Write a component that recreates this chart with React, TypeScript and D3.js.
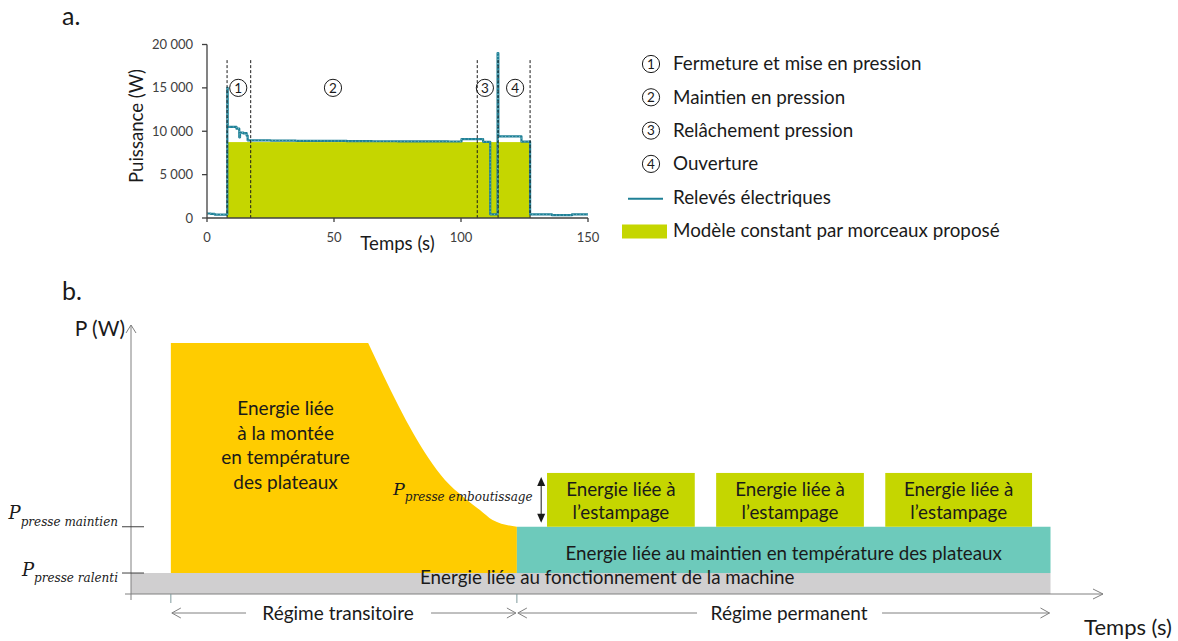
import React from 'react';
import * as d3 from 'd3';

const SANS = 'Lato, "Open Sans", sans-serif';
const MATH = '"DejaVu Serif", "Liberation Serif", serif';
const INK = '#1a1a1a';

// ---------- (a) press cycle: measured power and piecewise-constant model ----------
// measured trace, read as steps (value holds until the next time)
const traceTime = [0, 1.5, 3, 8.0, 8.15, 11.6, 12.7, 13.0, 14.3, 14.8, 15.6, 16.0, 25, 35, 45, 55, 65, 75, 85, 95, 100.2, 108.7, 111.5, 114.4, 114.7, 123.8, 127.2, 135.8, 143.7, 150];
const traceWatts = [520, 470, 400, 15000, 10500, 10300, 9300, 9850, 9750, 9800, 9500, 8950, 8930, 8900, 8880, 8860, 8850, 8840, 8830, 8820, 9100, 8780, 420, 19000, 9400, 8800, 420, 330, 420, 420];

// proposed model: one constant level over the cycle
const modelStart = [7.9];
const modelEnd = [127.2];
const modelWatts = [8750];

// phase boundaries (s) and where each phase number sits
const phaseBounds = [7.9, 17.2, 106.4, 114.6, 127.2];
const phaseLabelTime = [12.3, 49.6, 109.4, 121.3];
const phaseLabelWatts = 15000;
const boundTopWatts = 18200;

const phaseNames = ['Fermeture et mise en pression', 'Maintien en pression', 'Relâchement pression', 'Ouverture'];
const traceName = 'Relevés électriques';
const modelName = 'Modèle constant par morceaux proposé';

const yTicksA = [0, 5000, 10000, 15000, 20000];
const xTicksA = [0, 50, 100, 150];

// ---------- (b) energy breakdown over time (schematic units) ----------
const idleLevel = 7.8;
const holdLevel = 25;
const stampLevel = 45;
const peakLevel = 93.3;

const warmupStart = 4.1;
const warmupTime = [24.4, 30.6, 32.3, 34.2, 35.9, 37.2, 39.7];
const warmupPower = [93.3, 50.6, 42.4, 36.1, 31.2, 27.5, 25];

const holdEnd = 94.6;
const stampStart = [42.8, 60.2, 77.6];
const stampEnd = [58.0, 75.4, 92.7];
const stampArrowTime = 42.2;

const regimeStart = [4.1, 39.7];
const regimeEnd = [39.7, 94.6];
const regimeLabelTime = [21.3, 67.7];
const regimeNames = ['Régime transitoire', 'Régime permanent'];

const warmupText = ['Energie liée', 'à la montée', 'en température', 'des plateaux'];
const stampText = ['Energie liée à', 'l’estampage'];
const holdText = 'Energie liée au maintien en température des plateaux';
const idleText = 'Energie liée au fonctionnement de la machine';
const idleTextTime = 49;
const warmupTextTime = 15.9;

const BODY = 18.8;

function Circled({ cx, cy, n }: { cx: number; cy: number; n: number }) {
  return (
    <g>
      <circle cx={cx} cy={cy} r={8.6} fill="none" stroke={INK} strokeWidth={1} />
      <text x={cx} y={cy + 4.7} textAnchor="middle" fontFamily={SANS} fontSize={13.5} fill={INK}>{n}</text>
    </g>
  );
}

function Chevron({ x, y, dir, size = 9, half = 5, color = '#808080' }: { x: number; y: number; dir: 'l' | 'r' | 'u'; size?: number; half?: number; color?: string }) {
  let d = '';
  if (dir === 'r') d = `M${x - size},${y - half}L${x},${y}L${x - size},${y + half}`;
  if (dir === 'l') d = `M${x + size},${y - half}L${x},${y}L${x + size},${y + half}`;
  if (dir === 'u') d = `M${x - half},${y + size}L${x},${y}L${x + half},${y + size}`;
  return <path d={d} fill="none" stroke={color} strokeWidth={1} />;
}

export default function App() {
  // ---- scales for (a)
  const xa = d3.scaleLinear().domain([0, 150]).range([207, 588]);
  const ya = d3.scaleLinear().domain([0, 20000]).range([218, 44.5]);
  const fmt = d3.formatLocale({ decimal: ',', thousands: '\u00a0', grouping: [3], currency: ['', ''] }).format(',d');

  const tracePath = d3
    .line<number>()
    .x((_, i) => xa(traceTime[i]))
    .y((d) => ya(d))
    .curve(d3.curveStepAfter)(traceWatts) as string;

  // ---- scales for (b)
  const xb = d3.scaleLinear().domain([0, 100]).range([131, 1103]);
  const yb = d3.scaleLinear().domain([0, 100]).range([594, 325]);

  const tail = d3
    .line<number>()
    .x((_, i) => xb(warmupTime[i]))
    .y((d) => yb(d))
    .curve(d3.curveMonotoneX)(warmupPower) as string;
  const warmupPath =
    `M${xb(warmupStart)},${yb(idleLevel)}L${xb(warmupStart)},${yb(peakLevel)}` +
    tail.replace(/^M/, 'L') +
    `L${xb(warmupTime[warmupTime.length - 1])},${yb(idleLevel)}Z`;

  const legendY = (i: number) => 64 + i * 33.3;
  const holdStart = warmupTime[warmupTime.length - 1];

  return (
    <svg width={1178} height={641} style={{ position: 'absolute', left: 0, top: 0, background: '#fff' }}>
      {/* ================= (a) ================= */}
      <text x={62} y={25} fontFamily={SANS} fontSize={25} fill={INK}>a.</text>

      {modelStart.map((s, i) => (
        <rect key={i} x={xa(s)} y={ya(modelWatts[i])} width={xa(modelEnd[i]) - xa(s)} height={ya(0) - ya(modelWatts[i])} fill="#c5d600" />
      ))}

      <path d={tracePath} fill="none" stroke="#1f8096" strokeWidth={2.2} strokeLinejoin="round" />
      <path d={tracePath} fill="none" stroke="#a7dbe6" strokeWidth={0.8} strokeDasharray="1 2.5" opacity={0.8} />

      {phaseBounds.map((t, i) => (
        <line key={i} x1={xa(t)} x2={xa(t)} y1={ya(boundTopWatts)} y2={ya(0)} stroke={INK} strokeWidth={1} strokeDasharray="3 2" />
      ))}
      {phaseLabelTime.map((t, i) => (
        <Circled key={i} cx={xa(t)} cy={ya(phaseLabelWatts)} n={i + 1} />
      ))}

      {/* axes */}
      <line x1={xa(0)} x2={xa(0)} y1={ya(20000)} y2={ya(0)} stroke="#404040" strokeWidth={1.3} />
      <line x1={xa(0)} x2={xa(150)} y1={ya(0)} y2={ya(0)} stroke="#404040" strokeWidth={1.3} />
      {yTicksA.map((v) => (
        <g key={v}>
          <line x1={xa(0) - 5} x2={xa(0)} y1={ya(v)} y2={ya(v)} stroke="#404040" strokeWidth={1.3} />
          <text x={193} y={ya(v) + 4.5} textAnchor="end" fontFamily={SANS} fontSize={13} fill="#404040">{fmt(v)}</text>
        </g>
      ))}
      {xTicksA.map((v) => (
        <g key={v}>
          <line x1={xa(v)} x2={xa(v)} y1={ya(0)} y2={ya(0) + 4} stroke="#404040" strokeWidth={1.3} />
          <text x={xa(v)} y={242} textAnchor="middle" fontFamily={SANS} fontSize={13} fill="#404040">{v}</text>
        </g>
      ))}
      <text x={397.5} y={250} textAnchor="middle" fontFamily={SANS} fontSize={18.6} fill={INK}>Temps (s)</text>
      <text transform="translate(143,126) rotate(-90)" textAnchor="middle" fontFamily={SANS} fontSize={18.6} fill={INK}>Puissance (W)</text>

      {/* legend */}
      {phaseNames.map((name, i) => (
        <g key={name}>
          <Circled cx={651} cy={legendY(i)} n={i + 1} />
          <text x={673} y={legendY(i) + 6.3} fontFamily={SANS} fontSize={BODY} fill={INK}>{name}</text>
        </g>
      ))}
      <line x1={628} x2={663} y1={legendY(4) + 1.5} y2={legendY(4) + 1.5} stroke="#1f8096" strokeWidth={2} />
      <text x={673} y={legendY(4) + 6.3} fontFamily={SANS} fontSize={BODY} fill={INK}>{traceName}</text>
      <rect x={622} y={legendY(5) - 6} width={45} height={14} fill="#c5d600" />
      <text x={673} y={legendY(5) + 6.3} fontFamily={SANS} fontSize={BODY} fill={INK}>{modelName}</text>

      {/* ================= (b) ================= */}
      <text x={62} y={300} fontFamily={SANS} fontSize={25} fill={INK}>b.</text>

      <rect x={xb(0)} y={yb(idleLevel)} width={xb(holdEnd) - xb(0)} height={yb(0) - yb(idleLevel)} fill="#d0cfd0" />
      <path d={warmupPath} fill="#ffcc00" />
      <rect x={xb(holdStart)} y={yb(holdLevel)} width={xb(holdEnd) - xb(holdStart)} height={yb(idleLevel) - yb(holdLevel)} fill="#6dcabb" />
      {stampStart.map((s, i) => (
        <g key={i}>
          <rect x={xb(s)} y={yb(stampLevel)} width={xb(stampEnd[i]) - xb(s)} height={yb(holdLevel) - yb(stampLevel)} fill="#c5d600" />
          {stampText.map((line, j) => (
            <text key={j} x={(xb(s) + xb(stampEnd[i])) / 2} y={496 + j * 23} textAnchor="middle" fontFamily={SANS} fontSize={BODY} fill={INK}>{line}</text>
          ))}
        </g>
      ))}

      {warmupText.map((line, j) => (
        <text key={j} x={xb(warmupTextTime)} y={415 + j * 24.5} textAnchor="middle" fontFamily={SANS} fontSize={19} fill={INK}>{line}</text>
      ))}
      <text x={(xb(holdStart) + xb(holdEnd)) / 2} y={560} textAnchor="middle" fontFamily={SANS} fontSize={BODY} fill={INK}>{holdText}</text>
      <text x={xb(idleTextTime)} y={583.5} textAnchor="middle" fontFamily={SANS} fontSize={BODY} fill={INK}>{idleText}</text>

      {/* axes */}
      <line x1={xb(0)} x2={xb(0)} y1={yb(100)} y2={600} stroke="#808080" strokeWidth={1} />
      <Chevron x={xb(0)} y={yb(100)} dir="u" size={8} half={5} />
      <line x1={125} x2={xb(100)} y1={yb(0)} y2={yb(0)} stroke="#808080" strokeWidth={1} />
      <Chevron x={xb(100)} y={yb(0)} dir="r" size={10} half={5} />
      {[idleLevel, holdLevel].map((v) => (
        <line key={v} x1={122} x2={144} y1={yb(v)} y2={yb(v)} stroke="#404040" strokeWidth={1} />
      ))}
      <text x={125} y={336} textAnchor="end" fontFamily={SANS} fontSize={21} fill={INK}>P (W)</text>
      <text x={1172} y={635} textAnchor="end" fontFamily={SANS} fontSize={22} fill={INK}>Temps (s)</text>

      <text x={118} y={519} textAnchor="end" fontFamily={MATH} fontStyle="italic" fill={INK}>
        <tspan fontSize={18}>P</tspan>
        <tspan fontSize={12} dy={7}>presse maintien</tspan>
      </text>
      <text x={118} y={576} textAnchor="end" fontFamily={MATH} fontStyle="italic" fill={INK}>
        <tspan fontSize={18}>P</tspan>
        <tspan fontSize={12} dy={6}>presse ralenti</tspan>
      </text>
      <text x={393} y={495} fontFamily={MATH} fontStyle="italic" fill={INK}>
        <tspan fontSize={17.5}>P</tspan>
        <tspan fontSize={12} dy={6}>presse emboutissage</tspan>
      </text>

      {/* stamping power double arrow */}
      <line x1={xb(stampArrowTime)} x2={xb(stampArrowTime)} y1={yb(stampLevel) + 8} y2={yb(holdLevel) - 8} stroke={INK} strokeWidth={1} />
      <path d={`M${xb(stampArrowTime)},${yb(stampLevel) + 4}l-4,9h8z`} fill={INK} />
      <path d={`M${xb(stampArrowTime)},${yb(holdLevel) - 4}l-4,-9h8z`} fill={INK} />

      {/* regime markers */}
      {regimeStart.map((s) => (
        <line key={s} x1={xb(s)} x2={xb(s)} y1={yb(0)} y2={603} stroke="#7f9a9c" strokeWidth={1} />
      ))}
      {regimeStart.map((s, i) => {
        const cx = xb(regimeLabelTime[i]);
        const y = 613;
        return (
          <g key={i}>
            <line x1={xb(s) + 1} x2={cx - 92} y1={y} y2={y} stroke="#808080" strokeWidth={1} />
            <line x1={cx + 93} x2={xb(regimeEnd[i]) - 1} y1={y} y2={y} stroke="#808080" strokeWidth={1} />
            <Chevron x={xb(s) + 1} y={y} dir="l" size={9} half={5} />
            <Chevron x={xb(regimeEnd[i]) - 1} y={y} dir="r" size={9} half={5} />
            <text x={cx} y={620} textAnchor="middle" fontFamily={SANS} fontSize={19} fill={INK}>{regimeNames[i]}</text>
          </g>
        );
      })}
    </svg>
  );
}
